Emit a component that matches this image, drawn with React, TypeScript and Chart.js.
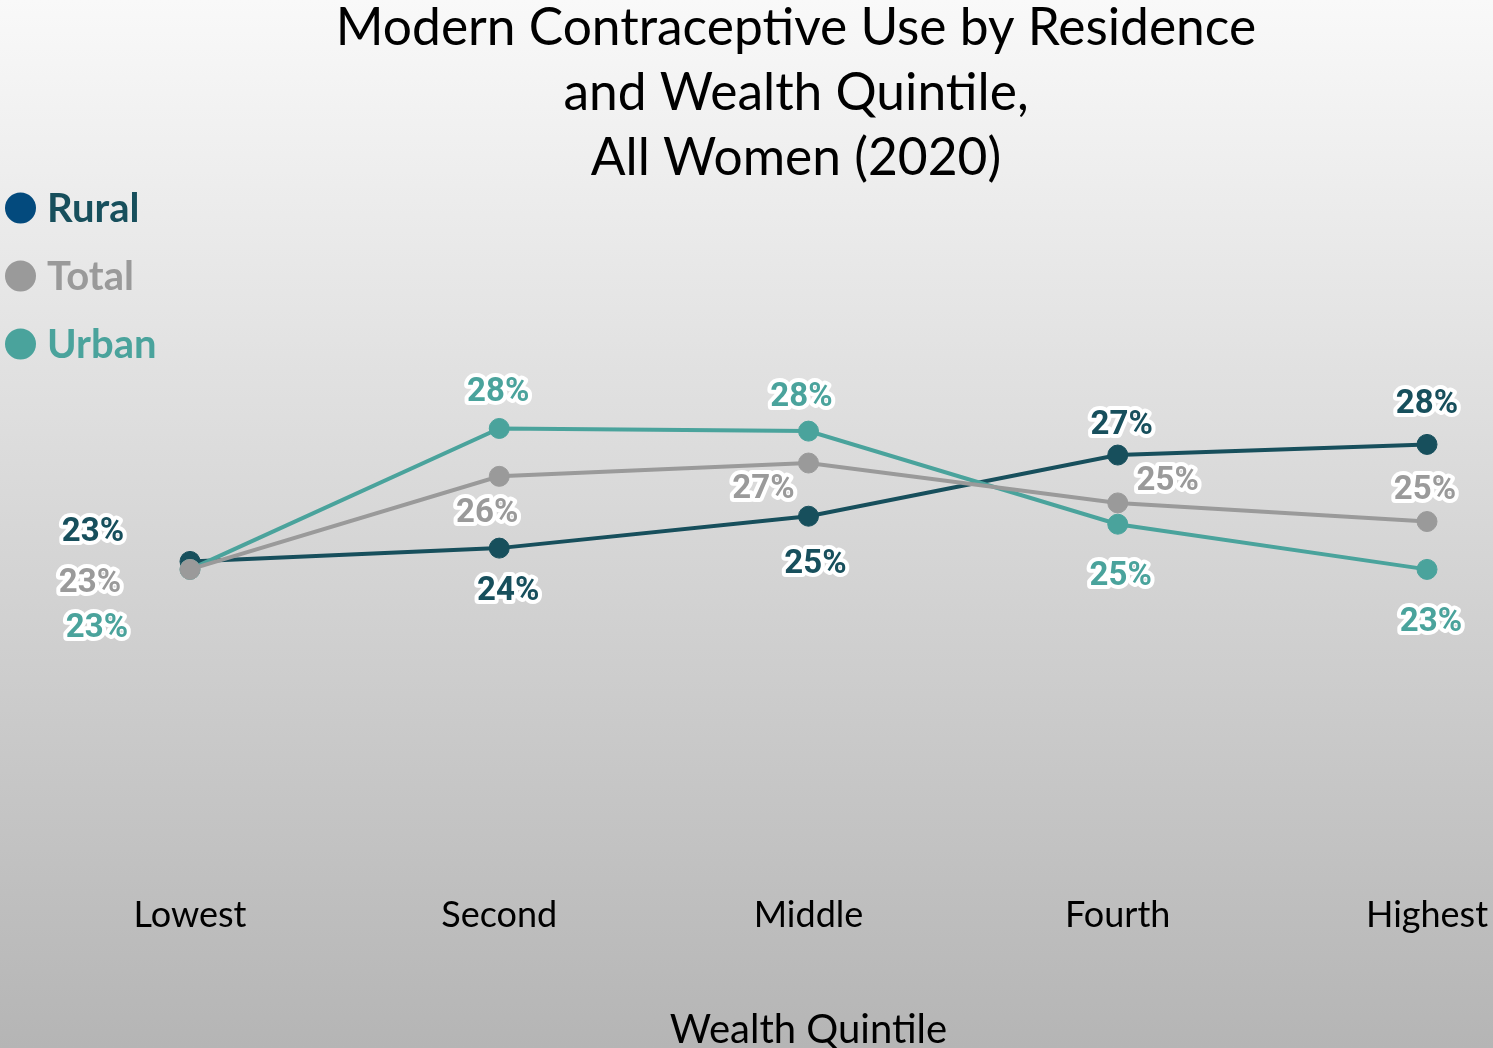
import { useEffect, useRef } from 'react';
import { Chart, registerables } from 'chart.js';

Chart.register(...registerables);

// ---- Data ----
const categories = ['Lowest', 'Second', 'Middle', 'Fourth', 'Highest'];
const seriesNames = ['Rural', 'Total', 'Urban'];
const ruralValues = [23.2, 23.7, 24.9, 27.2, 27.6];
const totalValues = [22.9, 26.4, 26.9, 25.4, 24.7];
const urbanValues = [22.9, 28.2, 28.1, 24.6, 22.9];
const titleLines = ['Modern Contraceptive Use by Residence', 'and Wealth Quintile,', 'All Women (2020)'];
const xAxisTitle = 'Wealth Quintile';

// ---- Styles ----
const lineColors = ['#174f5c', '#9a9a9a', '#4aa39c'];
const legendMarkerColors = ['#034a7d', '#9a9a9a', '#4aa39c'];
const legendTextColors = ['#174f5c', '#9a9a9a', '#4aa39c'];
const drawOrder = [3, 1, 2];

// label offsets (dx, dy) in px relative to each point, per series
const ruralLabelOffsets = [[-97, -29], [9, 44], [7, 49], [4, -29], [0, -40]];
const totalLabelOffsets = [[-100, 14], [-12, 37], [-45, 27], [50, -21], [-2, -31]];
const urbanLabelOffsets = [[-93, 59], [-1, -36], [-7, -33], [3, 53], [4, 53]];

const W = 1493;
const H = 1048;

const dataLabelPlugin = {
  id: 'dataLabelPlugin',
  afterDatasetsDraw(chart: any) {
    const ctx = chart.ctx;
    const offsets = [ruralLabelOffsets, totalLabelOffsets, urbanLabelOffsets];
    ctx.save();
    ctx.font = 'bold 33px Roboto';
    ctx.textAlign = 'center';
    ctx.textBaseline = 'middle';
    ctx.lineJoin = 'round';
    chart.data.datasets.forEach((ds: any, i: number) => {
      const meta = chart.getDatasetMeta(i);
      meta.data.forEach((pt: any, j: number) => {
        const v = ds.data[j];
        const txt = Math.round(v) + '%';
        const [dx, dy] = offsets[i][j];
        const x = pt.x + dx;
        const y = pt.y + dy;
        ctx.strokeStyle = '#ffffff';
        ctx.lineWidth = 8;
        ctx.strokeText(txt, x, y);
        ctx.fillStyle = lineColors[i];
        ctx.fillText(txt, x, y);
      });
    });
    ctx.restore();
  },
};

const legendPlugin = {
  id: 'customLegend',
  afterDraw(chart: any) {
    const ctx = chart.ctx;
    ctx.save();
    ctx.font = 'bold 40px Lato';
    ctx.textAlign = 'left';
    ctx.textBaseline = 'middle';
    seriesNames.forEach((name, i) => {
      const cy = 208 + i * 68;
      ctx.beginPath();
      ctx.arc(20.5, cy, 15.5, 0, Math.PI * 2);
      ctx.fillStyle = legendMarkerColors[i];
      ctx.fill();
      ctx.fillStyle = legendTextColors[i];
      ctx.fillText(name, 47, cy + 1);
    });
    ctx.restore();
  },
};

export default function App() {
  const ref = useRef<HTMLCanvasElement | null>(null);

  useEffect(() => {
    document.body.style.margin = '0';
    const canvas = ref.current;
    if (!canvas) return;
    const seriesValues = [ruralValues, totalValues, urbanValues];
    const chart = new Chart(canvas, {
      type: 'line',
      data: {
        labels: categories,
        datasets: seriesNames.map((name, i) => ({
          label: name,
          data: seriesValues[i],
          borderColor: lineColors[i],
          backgroundColor: lineColors[i],
          pointBackgroundColor: lineColors[i],
          pointBorderColor: lineColors[i],
          borderWidth: 4,
          pointRadius: 10,
          pointBorderWidth: 1,
          tension: 0,
          fill: false,
          order: drawOrder[i],
        })),
      },
      options: {
        responsive: false,
        animation: false,
        layout: { padding: { left: 94, right: -5, top: 0, bottom: 0 } },
        plugins: {
          legend: { display: false },
          tooltip: { enabled: false },
          title: {
            display: true,
            text: titleLines,
            color: '#000000',
            font: { family: 'Lato', size: 51.5, weight: 'normal', lineHeight: 1.262 },
            padding: { top: -4, bottom: 8 },
          },
        },
        scales: {
          x: {
            grid: { display: false, drawTicks: false },
            border: { display: false },
            ticks: {
              color: '#000000',
              padding: 17,
              font: { family: 'Lato', size: 36, lineHeight: 1.4 },
            },
            title: {
              display: true,
              text: xAxisTitle,
              color: '#000000',
              font: { family: 'Lato', size: 40, lineHeight: 1 },
              padding: { top: 52, bottom: -2 },
            },
            afterFit: (scale: any) => {
              scale.paddingRight = 66;
            },
          },
          y: {
            display: true,
            min: 11.46,
            max: 36.83,
            grid: { display: false, drawTicks: false },
            border: { display: false },
            ticks: { display: false },
            afterFit: (scale: any) => {
              scale.width = 96;
            },
          },
        },
      },
      plugins: [dataLabelPlugin, legendPlugin],
    });
    return () => chart.destroy();
  }, []);

  return (
    <div
      style={{
        position: 'fixed',
        left: 0,
        top: 0,
        width: W,
        height: H,
        background: 'linear-gradient(to bottom, #f9f9f9 0%, #b5b5b5 100%)',
      }}
    >
      <canvas ref={ref} width={W} height={H} style={{ display: 'block', width: W, height: H }} />
    </div>
  );
}
